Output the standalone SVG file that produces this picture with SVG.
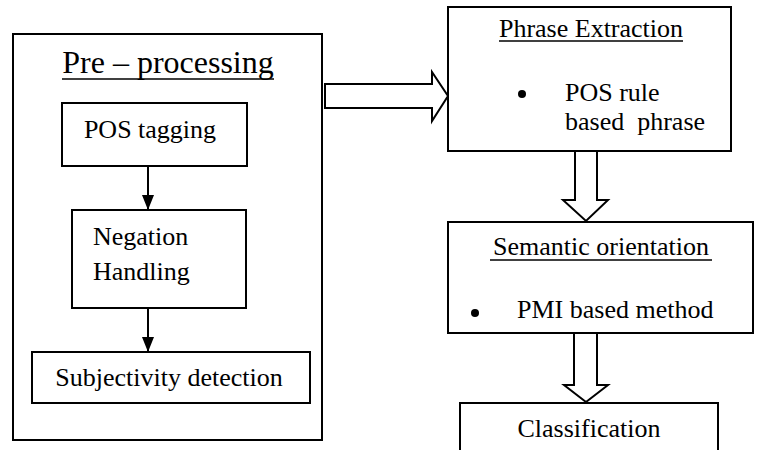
<svg xmlns="http://www.w3.org/2000/svg" width="759" height="450" viewBox="0 0 759 450">
  <style>
    .box { fill: #fff; stroke: #000; stroke-width: 2; }
    .flow { fill: #fff; stroke: #000; stroke-width: 2; stroke-linejoin: miter; }
    .t { font-family: "Liberation Serif", "Times New Roman", serif; font-size: 26px; fill: #000; }
    .title { font-size: 32px; }
    .c { text-anchor: middle; }
    .ul { stroke: #000; stroke-width: 1.5; }
    .link { stroke: #000; stroke-width: 2; fill: none; }
  </style>
  <defs>
    <!-- solid arrowhead, drawn pointing along +x so orient="auto" turns it with the line -->
    <marker id="head" markerWidth="15" markerHeight="12" refX="15" refY="6" orient="auto" markerUnits="userSpaceOnUse" viewBox="0 0 15 12">
      <path d="M0,0 L15,6 L0,12 Z" fill="#000"/>
    </marker>
  </defs>
  <rect width="759" height="450" fill="#fff"/>

  <!-- Pre-processing container -->
  <g id="preprocessing">
    <rect class="box" x="13" y="34" width="309" height="406"/>
    <text class="t title c" x="168" y="73">Pre – processing</text>
    <line class="ul" x1="62" y1="79" x2="274" y2="79"/>
  </g>

  <g id="pos-tagging">
    <rect class="box" x="62" y="103" width="185" height="63"/>
    <text class="t c" x="150" y="138">POS tagging</text>
  </g>

  <g id="negation-handling">
    <rect class="box" x="72" y="210" width="174" height="98"/>
    <text class="t" x="93" y="245">Negation</text>
    <text class="t" x="93" y="280">Handling</text>
  </g>

  <g id="subjectivity-detection">
    <rect class="box" x="32" y="352" width="278" height="51"/>
    <text class="t c" x="169" y="386">Subjectivity detection</text>
  </g>

  <!-- Right column -->
  <g id="phrase-extraction">
    <rect class="box" x="448" y="7" width="283" height="144"/>
    <text class="t c" x="591" y="37">Phrase Extraction</text>
    <line class="ul" x1="499" y1="41" x2="683" y2="41"/>
    <circle cx="522" cy="94" r="4" fill="#000"/>
    <text class="t" x="565" y="101">POS rule</text>
    <text class="t" x="565" y="130" xml:space="preserve">based  phrase</text>
  </g>

  <g id="semantic-orientation">
    <rect class="box" x="448" y="222" width="305" height="111"/>
    <text class="t c" x="601" y="255">Semantic orientation</text>
    <line class="ul" x1="490" y1="260" x2="712" y2="260"/>
    <circle cx="475" cy="313" r="4" fill="#000"/>
    <text class="t" x="517" y="318">PMI based method</text>
  </g>

  <g id="classification">
    <rect class="box" x="460" y="403" width="258" height="48"/>
    <text class="t c" x="589" y="437">Classification</text>
  </g>

  <!-- Connectors -->
  <g id="connectors">
    <line class="link" x1="148" y1="166" x2="148" y2="210" marker-end="url(#head)"/>
    <line class="link" x1="148" y1="308" x2="148" y2="352" marker-end="url(#head)"/>
    <polygon class="flow" points="325,84 432,84 432,72 448,96 432,121 432,108 325,108"/>
    <polygon class="flow" points="575,151 597,151 597,200 608,200 586,221 563,200 575,200"/>
    <polygon class="flow" points="574,333 597,333 597,385 608,385 586,402 564,385 574,385"/>
  </g>
</svg>
